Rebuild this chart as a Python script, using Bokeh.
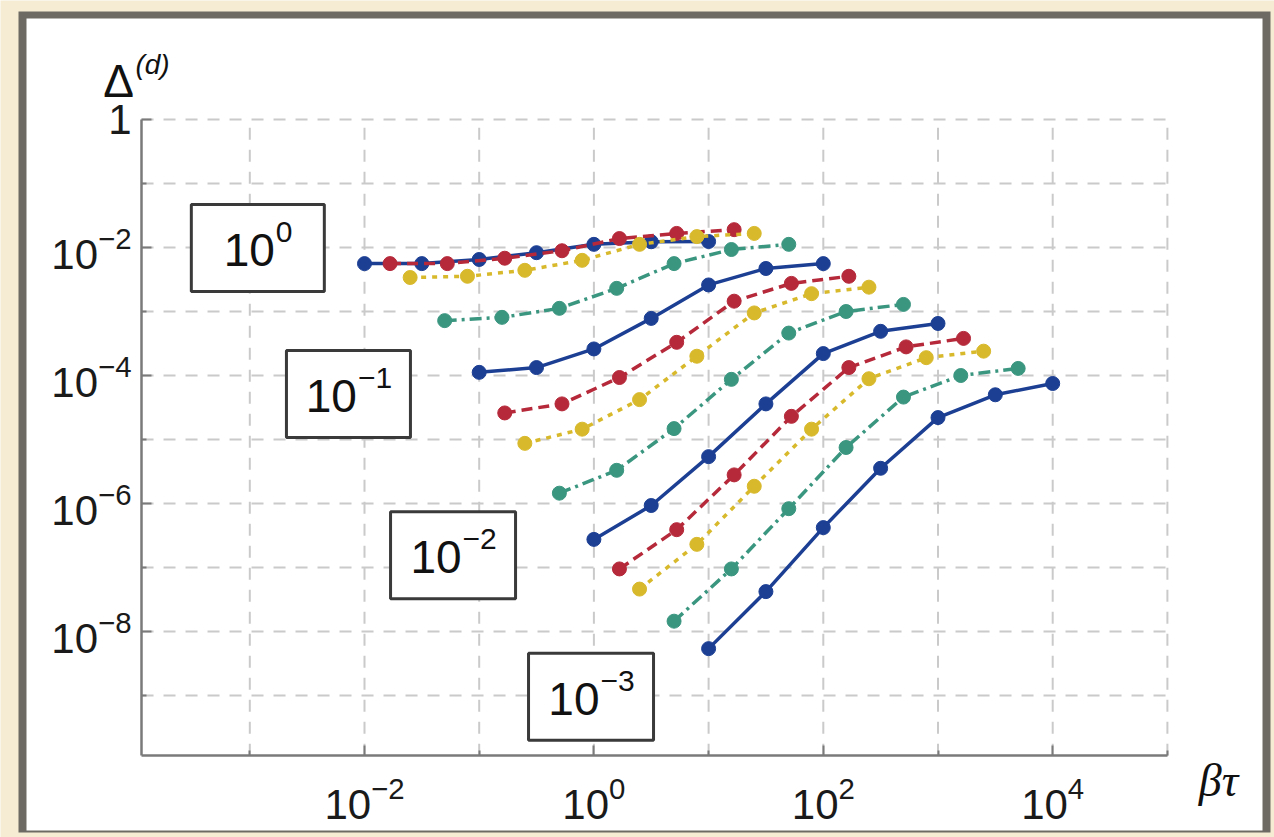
from bokeh.plotting import figure
from bokeh.models import Range1d, FixedTicker, LogTickFormatter, BoxAnnotation, Label, ColumnDataSource
from bokeh.core.properties import value
from bokeh.embed import file_html
from bokeh.resources import INLINE

# ---------------- data ----------------
x_b1 = [0.01, 0.0316, 0.1, 0.316, 1.0, 3.16, 10.0]
y_b1 = [5.6e-3, 5.6e-3, 6.5e-3, 8.3e-3, 1.12e-2, 1.23e-2, 1.24e-2]
x_r1 = [0.0167, 0.0527, 0.167, 0.527, 1.67, 5.27, 16.7]
y_r1 = [5.6e-3, 5.6e-3, 6.8e-3, 8.9e-3, 1.38e-2, 1.66e-2, 1.9e-2]
x_y1 = [0.025, 0.079, 0.25, 0.79, 2.5, 7.9, 25.0]
y_y1 = [3.4e-3, 3.55e-3, 4.4e-3, 6.3e-3, 1.12e-2, 1.48e-2, 1.66e-2]
x_g1 = [0.05, 0.158, 0.5, 1.58, 5.0, 15.8, 50.0]
y_g1 = [7.2e-4, 8.1e-4, 1.12e-3, 2.3e-3, 5.6e-3, 9.3e-3, 1.12e-2]

x_b2 = [0.1, 0.316, 1.0, 3.16, 10.0, 31.6, 100.0]
y_b2 = [1.12e-4, 1.33e-4, 2.6e-4, 7.8e-4, 2.6e-3, 4.7e-3, 5.6e-3]
x_r2 = [0.167, 0.527, 1.67, 5.27, 16.7, 52.7, 167.0]
y_r2 = [2.6e-5, 3.6e-5, 9.3e-5, 3.3e-4, 1.45e-3, 2.75e-3, 3.55e-3]
x_y2 = [0.25, 0.79, 2.5, 7.9, 25.0, 79.0, 250.0]
y_y2 = [8.7e-6, 1.45e-5, 4.2e-5, 2.0e-4, 9.5e-4, 1.9e-3, 2.4e-3]
x_g2 = [0.5, 1.58, 5.0, 15.8, 50.0, 158.0, 500.0]
y_g2 = [1.45e-6, 3.3e-6, 1.48e-5, 8.7e-5, 4.6e-4, 1.0e-3, 1.29e-3]

x_b3 = [1.0, 3.16, 10.0, 31.6, 100.0, 316.0, 1000.0]
y_b3 = [2.75e-7, 9.3e-7, 5.4e-6, 3.6e-5, 2.2e-4, 4.9e-4, 6.5e-4]
x_r3 = [1.67, 5.27, 16.7, 52.7, 167.0, 527.0, 1670.0]
y_r3 = [9.5e-8, 3.9e-7, 2.8e-6, 2.3e-5, 1.33e-4, 2.8e-4, 3.8e-4]
x_y3 = [2.5, 7.9, 25.0, 79.0, 250.0, 790.0, 2500.0]
y_y3 = [4.6e-8, 2.3e-7, 1.86e-6, 1.45e-5, 8.9e-5, 1.9e-4, 2.4e-4]
x_g3 = [5.0, 15.8, 50.0, 158.0, 500.0, 1580.0, 5000.0]
y_g3 = [1.45e-8, 9.5e-8, 8.3e-7, 7.5e-6, 4.6e-5, 1.0e-4, 1.29e-4]

x_b4 = [10.0, 31.6, 100.0, 316.0, 1000.0, 3160.0, 10000.0]
y_b4 = [5.4e-9, 4.2e-8, 4.2e-7, 3.55e-6, 2.2e-5, 5.0e-5, 7.5e-5]

series = [
    (x_b1, y_b1, "blue"), (x_r1, y_r1, "red"), (x_y1, y_y1, "yellow"), (x_g1, y_g1, "green"),
    (x_b2, y_b2, "blue"), (x_r2, y_r2, "red"), (x_y2, y_y2, "yellow"), (x_g2, y_g2, "green"),
    (x_b3, y_b3, "blue"), (x_r3, y_r3, "red"), (x_y3, y_y3, "yellow"), (x_g3, y_g3, "green"),
    (x_b4, y_b4, "blue"),
]

# tick values
x_label_ticks = [1e-2, 1e0, 1e2, 1e4]
x_minor_ticks = [1e-3, 1e-1, 1e1, 1e3, 1e5]
y_label_ticks = [1e0, 1e-2, 1e-4, 1e-6, 1e-8]
y_minor_ticks = [1e-1, 1e-3, 1e-5, 1e-7, 1e-9]
x_grid_ticks = [1e-3, 1e-2, 1e-1, 1e0, 1e1, 1e2, 1e3, 1e4, 1e5]
y_grid_ticks = [1e0, 1e-1, 1e-2, 1e-3, 1e-4, 1e-5, 1e-6, 1e-7, 1e-8, 1e-9]

# boxed annotations: exponent text of "10^k"
box_exponents = ["0", "\u22121", "\u22122", "\u22123"]
box_x = [10 ** -2.93, 10 ** -2.14, 10 ** -1.228, 10 ** -0.025]
box_y = [10 ** -2.008, 10 ** -4.29, 10 ** -6.81, 10 ** -9.02]
box_w = [133, 124, 125, 125]

# ---------------- layout helpers (pixel -> data, log axes) ----------------
W, H = 1274, 837
PX_X0, PX_PER_DEC_X = 364.0, 114.7   # pixel of 10^-2, pixels per decade
PX_Y0, PX_PER_DEC_Y = 119.0, 64.0    # pixel of 10^0 (from top), pixels per decade


def xd(px):
    return 10 ** (-2 + (px - PX_X0) / PX_PER_DEC_X)


def yd(py):
    return 10 ** (-(py - PX_Y0) / PX_PER_DEC_Y)


COLORS = {"blue": "#1c3f94", "red": "#b5293a", "yellow": "#d8b92c", "green": "#3b9680"}
DASHES = {"blue": "solid", "red": "11 6", "yellow": "5 6", "green": "12 5 3 5"}
BEIGE = "#f5ecd3"
FRAME_GREY = "#6d6a63"
AXIS_GREY = "#7a7a7a"
GRID_GREY = "#cacaca"

X_MIN, X_MAX = 10 ** -3.944, 1e5
Y_MIN, Y_MAX = 10 ** -9.94, 1.0

p = figure(width=W, height=H, x_axis_type="log", y_axis_type="log",
           x_range=Range1d(xd(0), xd(W)), y_range=Range1d(yd(H), yd(0)),
           output_backend="svg", toolbar_location=None,
           min_border_left=0, min_border_right=0, min_border_top=0, min_border_bottom=0,
           border_fill_color=BEIGE, background_fill_color=BEIGE, outline_line_color=None)

# page panel: grey frame + white sheet
p.add_layout(BoxAnnotation(left=xd(18), right=xd(1270), top=yd(11), bottom=yd(832),
                           fill_color=FRAME_GREY, fill_alpha=1.0, line_color=None, level="image"))
p.add_layout(BoxAnnotation(left=xd(26), right=xd(1262), top=yd(18), bottom=yd(830),
                           fill_color="white", fill_alpha=1.0, line_color=None, level="image"))

# grid (limited to the axes box)
p.xgrid.visible = False
p.ygrid.visible = False
p.segment(x0=x_grid_ticks, y0=[Y_MIN] * len(x_grid_ticks), x1=x_grid_ticks, y1=[Y_MAX] * len(x_grid_ticks),
          line_color=GRID_GREY, line_width=2, line_dash="12 10")
p.segment(x0=[X_MIN] * len(y_grid_ticks), y0=y_grid_ticks, x1=[X_MAX] * len(y_grid_ticks), y1=y_grid_ticks,
          line_color=GRID_GREY, line_width=2, line_dash="12 10")

# axes crossing at the lower-left corner of the data box
p.xaxis.fixed_location = Y_MIN
p.yaxis.fixed_location = X_MIN
p.xaxis.bounds = (X_MIN, X_MAX)
p.yaxis.bounds = (Y_MIN, Y_MAX)
p.xaxis.ticker = FixedTicker(ticks=x_label_ticks, minor_ticks=x_minor_ticks)
p.yaxis.ticker = FixedTicker(ticks=y_label_ticks, minor_ticks=y_minor_ticks)
p.xaxis.formatter = LogTickFormatter(min_exponent=0)
p.yaxis.formatter = LogTickFormatter(min_exponent=1)
for ax in (p.xaxis, p.yaxis):
    ax.axis_line_color = AXIS_GREY
    ax.axis_line_width = 2.5
    ax.major_tick_in = 10
    ax.major_tick_out = 0
    ax.minor_tick_in = 5
    ax.minor_tick_out = 0
    ax.major_tick_line_color = AXIS_GREY
    ax.major_tick_line_width = 2
    ax.minor_tick_line_color = AXIS_GREY
    ax.minor_tick_line_width = 2
    ax.major_label_text_font = "Liberation Sans"
    ax.major_label_text_font_size = "42px"
    ax.major_label_text_color = "#1a1a1a"
p.xaxis.major_label_standoff = 20
p.yaxis.major_label_standoff = 10

# boxes with labels
exp_w = [17 * len(e) for e in box_exponents]
base_off = [51 - (51 + w) / 2 for w in exp_w]
bsrc = ColumnDataSource(dict(x=box_x, y=box_y, w=box_w, exp=box_exponents,
                             base=["10"] * len(box_x), off=base_off,
                             eoff=[o + 1 for o in base_off]))
p.rect(x="x", y="y", width="w", height=87, width_units="screen", height_units="screen",
       source=bsrc, fill_color="white", line_color="#3a3a3a", line_width=3)
p.text(x="x", y="y", text="base", x_offset="off", y_offset=2, source=bsrc,
       text_align="right", text_baseline="middle", text_font=value("Liberation Sans"),
       text_font_size="46px", text_color="#111111")
p.text(x="x", y="y", text="exp", x_offset="eoff", y_offset=-16, source=bsrc,
       text_align="left", text_baseline="middle", text_font=value("Liberation Sans"),
       text_font_size="30px", text_color="#111111")

# curves
for xs, ys, fam in series:
    c = COLORS[fam]
    p.line(xs, ys, line_color=c, line_width=3.5, line_dash=DASHES[fam])
    p.scatter(xs, ys, size=14, fill_color=c, line_color=c)

# axis titles
p.add_layout(Label(x=xd(118), y=yd(80), text="\u0394",
                   text_font="Liberation Sans", text_font_size="46px", text_color="#111111",
                   text_align="center", text_baseline="middle"))
p.add_layout(Label(x=xd(152), y=yd(64), text="(d)",
                   text_font="Liberation Sans", text_font_style="italic", text_font_size="28px",
                   text_color="#111111", text_align="center", text_baseline="middle"))
p.add_layout(Label(x=xd(1218), y=yd(780), text="\u03b2\u03c4",
                   text_font="Liberation Serif", text_font_style="italic", text_font_size="46px",
                   text_color="#111111", text_align="center", text_baseline="middle"))

open("out.html", "w").write(file_html(p, INLINE))
